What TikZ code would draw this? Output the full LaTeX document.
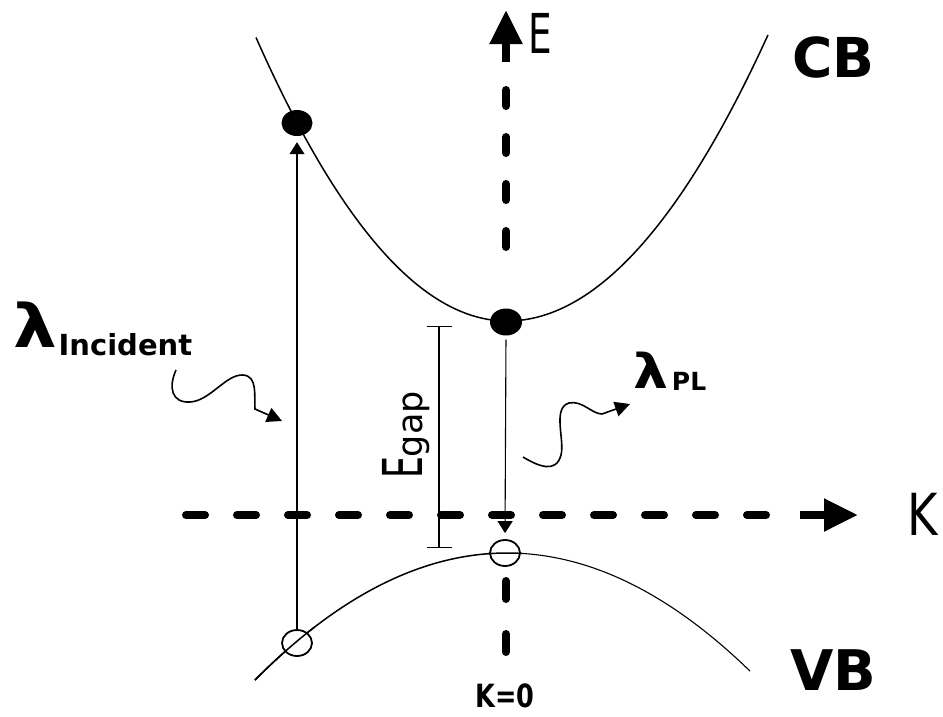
\documentclass[tikz,border=0pt]{standalone}
\usepackage{fontspec}
\usepackage{graphicx}
\setmainfont{DejaVu Sans}
\usetikzlibrary{arrows.meta,shapes.geometric}
\begin{document}
\begin{tikzpicture}[x=1pt,y=-1pt,
  vaxis/.style={line width=8pt,line cap=round,dash pattern=on 16pt off 31pt},
  vaxisb/.style={line width=8pt,line cap=round,dash pattern=on 18pt off 35pt},
  haxis/.style={line width=8pt,line cap=round,dash pattern=on 19pt off 32pt},
  axhead/.style={line width=8pt,-{Triangle[length=34pt,width=31pt]}},
  band/.style={line width=1.5pt},
  trans/.style={line width=1.1pt,-{Triangle[length=12pt,width=15pt]}},
  fdot/.style={ellipse,fill=black,minimum width=31pt,minimum height=26pt,inner sep=0pt},
  hole/.style={ellipse,draw,line width=1.8pt,minimum width=30pt,minimum height=26pt,inner sep=0pt},
  wave/.style={line width=1.6pt,-{Triangle[length=15pt,width=15pt]}},
  lbl/.style={inner sep=0pt,outer sep=0pt}]
\useasboundingbox (0,0) rectangle (943,716);
% axes
\coordinate (eTop) at (506,10);
\coordinate (eStem) at (506,62);
\coordinate (v1a) at (506,90);
\coordinate (v1b) at (506,260);
\coordinate (v2a) at (506,581);
\coordinate (v2b) at (506,684);
\coordinate (h1a) at (186,515);
\coordinate (h1b) at (780,515);
\coordinate (kStem) at (800,515);
\coordinate (kTip) at (858,515);
\draw[axhead,line cap=butt] (eStem) -- (eTop);
\draw[vaxis] (v1a) -- (v1b);
\draw[vaxisb] (v2a) -- (v2b);
\draw[haxis] (h1a) -- (h1b);
\draw[axhead,line cap=butt] (kStem) -- (kTip);
% bands
\draw[band] plot[domain=256:507,samples=80] (\x,{321-45*((\x-507)/100)^2})
  -- plot[domain=507:768,samples=80] (\x,{321-42*((\x-507)/100)^2});
\draw[band] plot[domain=255:507,samples=80] (\x,{553+20*((\x-507)/100)^2});
\draw[line width=1.1pt] plot[domain=507:750,samples=80] (\x,{553+20*((\x-507)/100)^2});
% carriers
\node[fdot] (cb1) at (297,123) {};
\node[fdot,minimum width=32pt,minimum height=27pt] (cb0) at (506,322) {};
\node[hole,fill=white] (vb1) at (297,643) {};
\node[hole,fill=white] (vb0) at (505,553) {};
\draw[band] plot[domain=255:315,samples=20] (\x,{553+20*((\x-507)/100)^2});
\draw[band] plot[domain=488:522,samples=10] (\x,{553+20*((\x-507)/100)^2});
% transitions
\draw[trans,shorten >=6pt] (vb1.north) -- (cb1.south);
\draw[trans,shorten <=4pt,shorten >=6pt] (cb0.south) -- (vb0.north);
% Egap bar
\coordinate (eg1) at (439,326);
\coordinate (eg2) at (439,548);
\draw[line width=1.1pt,{Bar[width=25pt]}-{Bar[width=25pt]}] (eg1) -- (eg2);
\node[lbl,rotate=90,anchor=base] (egap) at (422,435)
  {\fontsize{55}{55}\selectfont\scalebox{0.63}[1]{E}\fontsize{35}{35}\selectfont gap};
% wavy photons
\coordinate (w1s) at (176,370);
\coordinate (w1k) at (255,409);
\coordinate (w1t) at (282,421);
\draw[wave] (w1s) .. controls (168,388) and (172,403) .. (190,402)
  .. controls (210,401) and (226,374) .. (243,375)
  .. controls (258,376) and (254,396) .. (w1k) -- (w1t);
\coordinate (w2s) at (523,457);
\coordinate (w2k) at (602,414);
\coordinate (w2t) at (630,404);
\draw[wave] (w2s) .. controls (538,466) and (556,474) .. (561,455)
  .. controls (565,440) and (552,408) .. (569,403)
  .. controls (582,400) and (592,414) .. (w2k) -- (w2t);
% labels
\node[lbl,anchor=base west] (linc) at (13,355)
  {{\fontsize{60}{60}\selectfont\bfseries\raisebox{8pt}{\scalebox{1.15}[1]{λ}}}\hspace{2pt}{\fontsize{29}{29}\selectfont\bfseries Incident}};
\node[lbl,anchor=base west] (lpl) at (633,390)
  {{\fontsize{48}{48}\selectfont\bfseries\raisebox{2pt}{\scalebox{1.15}[1]{λ}}}\hspace{4pt}{\fontsize{25}{25}\selectfont\bfseries PL}};
\node[lbl,anchor=base west] (elbl) at (528,53) {\fontsize{55}{55}\selectfont\scalebox{0.68}[1]{E}};
\node[lbl,anchor=base west] (klbl) at (907,535) {\fontsize{58}{58}\selectfont\scalebox{0.8}[1]{K}};
\node[lbl,anchor=base west] (cblbl) at (792,77) {\fontsize{55}{55}\selectfont\bfseries CB};
\node[lbl,anchor=base west] (vblbl) at (790,690) {\fontsize{56}{56}\selectfont\bfseries VB};
\node[lbl,anchor=base] (k0) at (505,707) {\fontsize{32}{32}\selectfont\bfseries\scalebox{0.8}[1]{K=0}};
\end{tikzpicture}
\end{document}
